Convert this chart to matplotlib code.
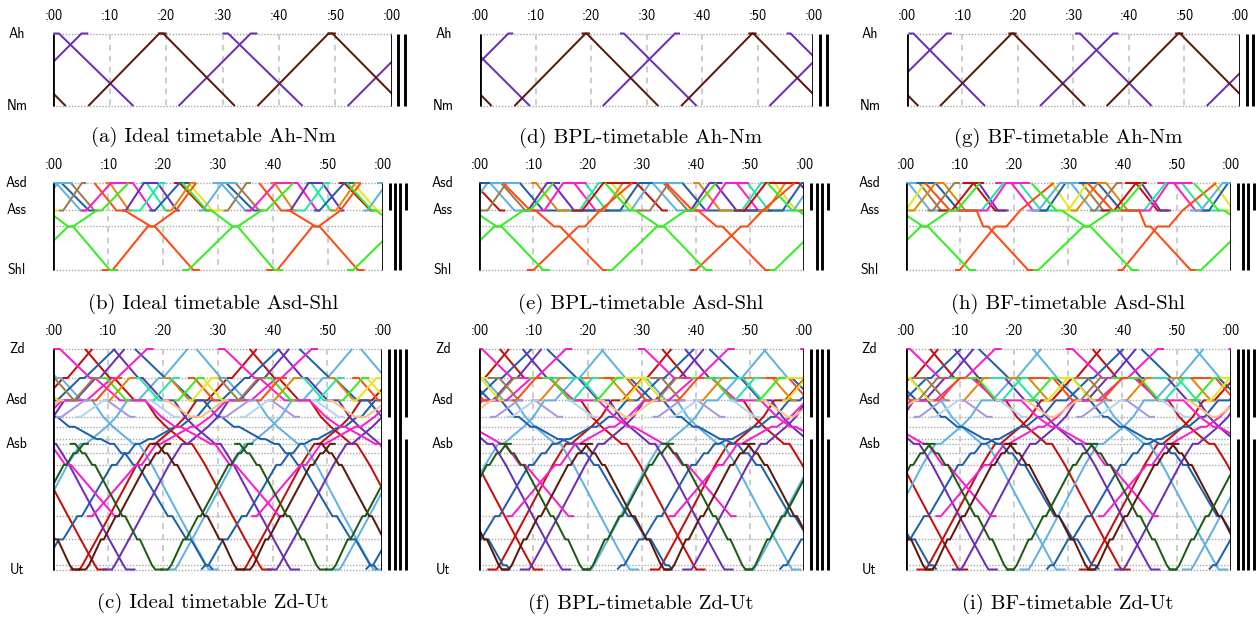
import numpy as np
import matplotlib
matplotlib.use("Agg")
import matplotlib.pyplot as plt
from matplotlib.transforms import offset_copy

FIG_W, FIG_H = 1258, 617
PERIOD = 30.0
TICKS = [0, 10, 20, 30, 40, 50, 60]
TICK_LABELS = [":00", ":10", ":20", ":30", ":40", ":50", ":00"]

COL = {
    "purple": "#6a30b4", "brown": "#5a1a0c", "orred": "#ff4a12", "green": "#33ee22",
    "dblue": "#2160a8", "lblue": "#60b2e0", "tan": "#9c7c52", "orange": "#e0880e",
    "magenta": "#f81ec8", "red": "#c4100c", "teal": "#22e6a6", "yellow": "#e6e61e",
    "dgreen": "#1e5c16", "lavender": "#a896e0", "paleblue": "#b4d2f2", "peach": "#f8c282",
}

# ---------------- corridor Ah - Nm ----------------
AN_NAMES = ["Ah", "Nm"]
AN_POS = [0.0, 72.5]
AN_LABELS = ["Ah", "Nm"]
AN_BARS = [[("Ah", "Nm")], [("Ah", "Nm")]]

# trips: (colour, times, stations); every trip repeats each PERIOD minutes
A_TRIPS = [
    ("purple", [0.0, 1.0, 14.2], ["Ah", "Ah", "Nm"]),
    ("purple", [22.2, 35.0, 36.2], ["Nm", "Ah", "Ah"]),
    ("brown", [6.2, 18.8, 20.1], ["Nm", "Ah", "Ah"]),
    ("brown", [18.6, 19.5, 32.2], ["Ah", "Ah", "Nm"]),
]
D_TRIPS = [
    ("purple", [25.2, 25.9, 39.0], ["Ah", "Ah", "Nm"]),
    ("purple", [22.1, 35.1, 36.0], ["Nm", "Ah", "Ah"]),
    ("brown", [6.2, 19.0, 19.8], ["Nm", "Ah", "Ah"]),
    ("brown", [18.3, 19.2, 32.1], ["Ah", "Ah", "Nm"]),
]
G_TRIPS = [
    ("purple", [0.3, 1.2, 14.1], ["Ah", "Ah", "Nm"]),
    ("purple", [24.0, 37.2, 38.1], ["Nm", "Ah", "Ah"]),
    ("brown", [6.0, 18.9, 19.8], ["Nm", "Ah", "Ah"]),
    ("brown", [18.3, 19.2, 32.1], ["Ah", "Ah", "Nm"]),
]

# ---------------- corridor Asd - Shl ----------------
AS_NAMES = ["Asd", "Ass", "Asdl", "Shl"]
AS_POS = [0.0, 27.5, 43.5, 87.0]
AS_LABELS = ["Asd", "Ass", "Shl"]
AS_BARS = [[("Asd", "Ass")], [("Asd", "Shl")], [("Asd", "Shl")], [("Asd", "Ass")]]

# short runs Asd -> Ass: colour, [at Asd, leave Asd, at Ass, leave Ass]
B_DOWN = [
    ("dblue", [0.0, 1.5, 6.5, 7.8]), ("lblue", [-1.0, 0.5, 5.0, 6.0]),
    ("tan", [2.5, 3.2, 7.5, 8.3]), ("orange", [9.5, 10.3, 13.8, 14.3]),
    ("magenta", [11.0, 14.5, 18.0, 18.6]), ("teal", [16.0, 17.0, 20.5, 21.2]),
    ("purple", [16.5, 19.0, 22.5, 23.0]), ("red", [22.0, 23.0, 27.8, 28.6]),
    ("yellow", [24.0, 24.6, 29.0, 31.0]),
]
# short runs Ass -> Asd: colour, [at Ass, leave Ass, at Asd, leave Asd]
B_UP = [
    ("lblue", [-3.5, -2.8, 0.8, 3.5]), ("tan", [1.0, 1.8, 5.2, 6.0]),
    ("magenta", [5.0, 6.0, 10.5, 12.0]), ("purple", [12.5, 13.2, 16.5, 19.0]),
    ("teal", [14.0, 15.8, 19.5, 20.5]), ("dblue", [17.5, 18.5, 23.0, 26.0]),
    ("orange", [20.5, 21.5, 25.0, 26.0]),
]
B_LONG = [
    ("orred", [7.5, 11.5, 13.0, 17.8, 18.5, 25.5, 26.7], ["Asd", "Ass", "Ass", "Asdl", "Asdl", "Shl", "Shl"]),
    ("orred", [8.8, 10.8, 17.2, 18.3, 22.3, 26.0], ["Shl", "Shl", "Asdl", "Asdl", "Ass", "Asd"]),
    ("green", [-6.5, -2.0, -1.2, 2.7, 3.6, 10.3, 11.8], ["Asd", "Ass", "Ass", "Asdl", "Asdl", "Shl", "Shl"]),
    ("green", [-6.5, -5.4, 2.7, 3.6, 7.9, 8.8, 13.7], ["Shl", "Shl", "Asdl", "Asdl", "Ass", "Ass", "Asd"]),
]

E_DOWN = [
    ("red", [-3.0, -1.0, 3.8, 4.8]), ("lblue", [0.5, 2.0, 6.5, 8.5]),
    ("tan", [3.0, 4.0, 8.5, 10.5]), ("dblue", [1.5, 7.5, 11.8, 20.0]),
    ("orange", [9.5, 10.5, 14.5, 17.5]), ("magenta", [15.5, 17.5, 21.5, 23.5]),
    ("teal", [18.0, 19.5, 23.5, 26.5]), ("purple", [12.4, 13.5, 17.5, 24.0]),
    ("yellow", [23.5, 24.5, 28.5, 30.5]),
]
E_UP = [
    ("tan", [-1.0, 1.5, 5.0, 7.0]), ("lblue", [-4.0, -2.0, 1.5, 7.5]),
    ("purple", [8.0, 9.0, 12.5, 14.9]), ("magenta", [10.0, 12.0, 15.5, 19.8]),
    ("teal", [16.5, 18.5, 22.0, 23.0]), ("dblue", [20.0, 26.0, 29.5, 32.0]),
    ("orange", [21.5, 23.0, 26.5, 27.0]), ("red", [17.0, 19.0, 22.9, 29.0]),
]
E_LONG = [
    ("orred", [4.4, 9.4, 10.4, 13.8, 14.9, 22.8, 24.3], ["Asd", "Ass", "Ass", "Asdl", "Asdl", "Shl", "Shl"]),
    ("orred", [8.8, 10.0, 18.3, 19.5, 22.3, 28.2], ["Shl", "Shl", "Asdl", "Asdl", "Ass", "Asd"]),
    ("green", [-6.8, -2.2, -1.2, 3.2, 4.1, 11.8, 13.0], ["Asd", "Ass", "Ass", "Asdl", "Asdl", "Shl", "Shl"]),
    ("green", [-6.5, -5.5, 2.8, 3.8, 8.1, 9.4, 13.7], ["Shl", "Shl", "Asdl", "Asdl", "Ass", "Ass", "Asd"]),
]

H_DOWN = [
    ("lblue", [-1.0, 0.5, 4.5, 6.5]), ("tan", [1.0, 2.5, 6.5, 8.0]),
    ("orange", [6.5, 7.0, 11.0, 13.0]), ("red", [10.5, 12.5, 16.5, 18.5]),
    ("purple", [13.0, 13.5, 17.0, 19.0]), ("magenta", [16.5, 19.5, 23.5, 26.0]),
    ("teal", [20.0, 21.0, 25.0, 28.0]), ("dblue", [1.0, 5.5, 9.8, 12.5]),
    ("yellow", [26.5, 27.0, 30.5, 32.0]),
]
H_UP = [
    ("yellow", [-1.0, 0.0, 3.5, 4.0]), ("orange", [0.5, 1.5, 5.5, 7.0]),
    ("dblue", [24.5, 26.0, 29.5, 34.0]), ("lblue", [22.5, 24.5, 28.5, 32.0]),
    ("teal", [11.5, 14.0, 18.0, 20.5]), ("magenta", [12.5, 15.0, 18.5, 23.0]),
    ("red", [6.0, 8.5, 12.5, 14.5]), ("tan", [4.0, 5.0, 9.0, 10.0]),
]
H_LONG = [
    ("orred", [3.6, 8.2, 13.1, 14.3, 15.2, 22.6, 24.2], ["Asd", "Ass", "Ass", "Asdl", "Asdl", "Shl", "Shl"]),
    ("orred", [9.1, 10.0, 16.5, 18.6, 21.1, 27.3], ["Shl", "Shl", "Asdl", "Asdl", "Ass", "Asd"]),
    ("green", [-6.8, -2.2, -1.2, 3.2, 4.1, 11.8, 13.0], ["Asd", "Ass", "Ass", "Asdl", "Asdl", "Shl", "Shl"]),
    ("green", [-6.5, -5.5, 2.8, 3.8, 8.1, 9.4, 13.7], ["Shl", "Shl", "Asdl", "Asdl", "Ass", "Ass", "Asd"]),
]

# ---------------- corridor Zd - Ut ----------------
ZU_NAMES = ["Zd", "Ass", "Asd", "Asdm", "Asa", "Dvd", "Asb", "Hld", "Ac", "Bkl", "Mas", "Utzl", "Ut"]
ZU_POS = [0.0, 29.2, 51.7, 68.3, 78.3, 90.7, 95.5, 105.0, 116.7, 168.3, 191.7, 217.7, 222.0]
ZU_LABELS = ["Zd", "Asd", "Asb", "Ut"]
ZU_BARS = [[("Zd", "Asdm"), ("Dvd", "Ut")], [("Zd", "Ut")], [("Zd", "Ut")], [("Zd", "Asdm"), ("Dvd", "Ut")]]

# running profiles in the Zd -> Ut direction (minutes after departure)
IC_ST = ["Zd", "Ass", "Ass", "Asd", "Asd", "Asdm", "Asa", "Dvd", "Asb", "Asb", "Hld", "Ac", "Bkl", "Mas", "Utzl", "Ut", "Ut"]
IC_T = [0.0, 4.5, 5.3, 9.0, 11.0, 13.0, 14.8, 17.5, 18.5, 19.5, 20.6, 21.9, 26.9, 29.2, 31.8, 32.3, 34.0]
SP_ST = ["Zd", "Ass", "Ass", "Asd", "Asd", "Asdm", "Asdm", "Asa", "Asa", "Dvd", "Dvd", "Asb", "Asb",
         "Hld", "Hld", "Ac", "Ac", "Bkl", "Bkl", "Mas", "Mas", "Utzl", "Utzl", "Ut"]
SP_T = [0.0, 5.5, 6.3, 10.5, 12.5, 15.0, 15.8, 18.0, 19.0, 23.0, 23.8, 25.4, 26.2,
        27.5, 28.2, 29.7, 30.5, 36.0, 36.8, 39.4, 40.2, 42.9, 43.5, 44.2]
MG_ST = ["Zd", "Zd", "Ass", "Ass", "Asd", "Asd", "Asdm", "Asa", "Asa", "Dvd", "Asb", "Asb", "Hld", "Ac", "Ac", "Bkl", "Bkl"]
MG_T = [-1.2, 0.0, 5.5, 6.4, 11.0, 15.5, 18.5, 21.0, 22.0, 26.0, 27.5, 28.3, 29.5, 31.0, 32.0, 40.0, 41.0]
SH_ST = ["Asb", "Asb", "Hld", "Hld", "Ac", "Ac", "Bkl", "Bkl", "Mas", "Mas", "Utzl", "Ut", "Ut"]
SH_T = [-1.0, 0.0, 1.3, 1.8, 3.1, 3.6, 8.6, 9.1, 11.3, 11.8, 14.0, 14.6, 16.0]
# short runs between Ass and Asd, and between Asd and Asdm
SA_ST = ["Ass", "Ass", "Asd", "Asd"]
SA_T = [0.0, 1.2, 4.8, 5.6]
SM_ST = ["Asd", "Asd", "Asdm", "Asdm"]
SM_T = [0.0, 0.8, 5.0, 6.0]

PROFILES = {"IC": (IC_T, IC_ST), "SP": (SP_T, SP_ST), "MG": (MG_T, MG_ST),
            "SH": (SH_T, SH_ST), "SA": (SA_T, SA_ST), "SM": (SM_T, SM_ST)}

# services: colour, profile, direction (+1 towards Ut, -1 towards Zd), departure, extra wait at Ass
C_SERVICES = [
    ("red", "IC", 1, 5.8, 0), ("red", "IC", -1, 3.1, 0),
    ("lblue", "IC", 1, 26.1, 0), ("lblue", "IC", -1, 20.5, 0),
    ("dblue", "SP", 1, 14.9, 0), ("dblue", "SP", -1, 27.0, 0),
    ("purple", "IC", 1, 11.0, 0), ("purple", "IC", -1, 9.0, 0),
    ("magenta", "MG", 1, 1.2, 0), ("magenta", "MG", -1, 6.1, 0),
    ("brown", "SH", 1, 19.0, 0), ("brown", "SH", -1, 4.5, 0),
    ("dgreen", "SH", 1, 4.0, 0), ("dgreen", "SH", -1, 19.5, 0),
    ("tan", "SA", 1, -1.0, 0), ("green", "SA", 1, 8.5, 0), ("teal", "SA", 1, 14.5, 0),
    ("orange", "SA", 1, 20.0, 0), ("orred", "SA", 1, 24.5, 0), ("yellow", "SA", 1, 26.0, 0),
    ("orred", "SA", -1, 7.0, 0), ("orange", "SA", -1, 9.5, 0), ("tan", "SA", -1, 3.0, 0),
    ("teal", "SA", -1, 17.5, 0), ("green", "SA", -1, 22.0, 0), ("yellow", "SA", -1, 24.5, 0),
    ("lavender", "SM", -1, 0.5, 0), ("lavender", "SM", 1, 9.0, 0),
    ("paleblue", "SM", -1, 4.0, 0), ("paleblue", "SM", 1, 17.0, 0),
    ("peach", "SM", 1, 20.0, 0), ("peach", "SM", -1, 26.0, 0),
]
F_SERVICES = [
    ("red", "IC", 1, 3.8, 4), ("red", "IC", -1, 1.5, 0),
    ("lblue", "IC", 1, 22.5, 3), ("lblue", "IC", -1, 19.0, 0),
    ("dblue", "SP", 1, 12.5, 9), ("dblue", "SP", -1, 25.5, 0),
    ("purple", "IC", 1, 8.0, 5), ("purple", "IC", -1, 7.5, 0),
    ("magenta", "MG", 1, 0.5, 6), ("magenta", "MG", -1, 5.0, 0),
    ("brown", "SH", 1, 19.6, 0), ("brown", "SH", -1, 4.0, 0),
    ("dgreen", "SH", 1, 4.6, 0), ("dgreen", "SH", -1, 19.0, 0),
    ("tan", "SA", 1, -0.5, 3), ("green", "SA", 1, 9.0, 3), ("teal", "SA", 1, 13.5, 4),
    ("orange", "SA", 1, 19.0, 4), ("orred", "SA", 1, 23.0, 3), ("yellow", "SA", 1, 25.0, 4),
    ("orred", "SA", -1, 6.0, 0), ("orange", "SA", -1, 10.5, 0), ("tan", "SA", -1, 2.0, 0),
    ("teal", "SA", -1, 16.5, 0), ("green", "SA", -1, 21.0, 0), ("yellow", "SA", -1, 26.0, 0),
    ("lavender", "SM", -1, 2.0, 0), ("lavender", "SM", 1, 9.5, 0),
    ("paleblue", "SM", -1, 5.0, 0), ("paleblue", "SM", 1, 16.0, 0),
    ("peach", "SM", 1, 22.0, 0), ("peach", "SM", -1, 27.0, 0),
]
I_SERVICES = [
    ("red", "IC", 1, 4.5, 3), ("red", "IC", -1, 2.0, 0),
    ("lblue", "IC", 1, 23.5, 2), ("lblue", "IC", -1, 21.0, 0),
    ("dblue", "SP", 1, 13.5, 8), ("dblue", "SP", -1, 26.0, 0),
    ("purple", "IC", 1, 9.0, 4), ("purple", "IC", -1, 8.5, 0),
    ("magenta", "MG", 1, 0.8, 5), ("magenta", "MG", -1, 5.5, 0),
    ("brown", "SH", 1, 19.2, 0), ("brown", "SH", -1, 3.5, 0),
    ("dgreen", "SH", 1, 4.2, 0), ("dgreen", "SH", -1, 18.5, 0),
    ("tan", "SA", 1, 0.5, 2), ("green", "SA", 1, 8.0, 4), ("teal", "SA", 1, 14.0, 5),
    ("orange", "SA", 1, 18.5, 3), ("orred", "SA", 1, 22.0, 4), ("yellow", "SA", 1, 26.5, 3),
    ("orred", "SA", -1, 5.5, 0), ("orange", "SA", -1, 10.0, 0), ("tan", "SA", -1, 1.5, 0),
    ("teal", "SA", -1, 17.0, 0), ("green", "SA", -1, 22.5, 0), ("yellow", "SA", -1, 25.5, 0),
    ("lavender", "SM", -1, 1.5, 0), ("lavender", "SM", 1, 10.0, 0),
    ("paleblue", "SM", -1, 4.5, 0), ("paleblue", "SM", 1, 16.5, 0),
    ("peach", "SM", 1, 21.5, 0), ("peach", "SM", -1, 26.5, 0),
]

CAPTIONS = [
    ["(a) Ideal timetable Ah-Nm", "(d) BPL-timetable Ah-Nm", "(g) BF-timetable Ah-Nm"],
    ["(b) Ideal timetable Asd-Shl", "(e) BPL-timetable Asd-Shl", "(h) BF-timetable Asd-Shl"],
    ["(c) Ideal timetable Zd-Ut", "(f) BPL-timetable Zd-Ut", "(i) BF-timetable Zd-Ut"],
]

# panel frames in figure pixels: left, right (":00" ends), top station row, bottom station row
FRAMES = [
    [(53.3, 391.7, 33.5, 106.0), (480.0, 813.3, 33.5, 106.0), (906.7, 1240.0, 33.5, 106.0)],
    [(53.3, 382.7, 183.0, 270.0), (479.3, 804.3, 183.0, 270.0), (905.7, 1230.7, 183.0, 270.0)],
    [(53.3, 382.3, 349.0, 569.5), (479.3, 804.0, 349.0, 569.5), (905.7, 1230.7, 349.0, 569.5)],
]
CAPTION_XY = [
    [(213, 137), (641, 138), (1068, 138)],
    [(213, 304), (641, 304), (1068, 304)],
    [(213, 603), (641, 604), (1068, 604)],
]
BAR_OFFSETS = {2: [6.7, 13.3], 4: [7.0, 12.5, 17.7, 23.5]}


def expand_short(rows, first, second):
    out = []
    for colour, t in rows:
        out.append((colour, t, [first, first, second, second]))
    return out


def service_trips(services):
    trips = []
    for colour, prof, direction, dep, hold in services:
        t, st = PROFILES[prof]
        t = np.asarray(t, float)
        st = list(st)
        if direction < 0:
            t = (t[-1] - t)[::-1]
            st = st[::-1]
        t = t - t[np.argmax(t >= 0)] if direction < 0 else t
        t = t + dep
        if hold and "Ass" in st:
            idx = [i for i, s in enumerate(st) if s == "Ass"]
            last = idx[-1]
            if len(idx) == 1:
                t = np.insert(t, last, t[last])
                st.insert(last, "Ass")
                last += 1
            t[last:] = t[last:] + hold
        trips.append((colour, list(t), st))
    return trips


fig = plt.figure(figsize=(FIG_W / 100, FIG_H / 100), dpi=100)
SANS = ["cmss10", "DejaVu Sans"]
SERIF = ["cmr10", "DejaVu Serif"]


def draw_panel(frame, names, pos, labels, bars, trips, caption, cap_xy):
    left, right, top, bottom = frame
    pad = 4.0
    ax = fig.add_axes([left / FIG_W, 1 - (bottom + pad) / FIG_H,
                       (right - left) / FIG_W, (bottom - top + 2 * pad) / FIG_H])
    p = dict(zip(names, pos))
    scale = (pos[-1] - pos[0]) / (bottom - top)
    ax.set_xlim(0, 60)
    ax.set_ylim(pos[-1] + pad * scale, pos[0] - pad * scale)
    ax.axis("off")
    # station rows and ten-minute marks
    for y in pos:
        ax.plot([0, 60], [y, y], color="#a8a8a8", lw=1.0, ls=(0, (1.0, 1.2)), zorder=1)
    for x in TICKS[1:-1]:
        ax.plot([x, x], [pos[0], pos[-1]], color="#cccccc", lw=1.4, ls=(0, (3.0, 2.6)), zorder=1)
    for colour, times, stations in trips:
        ys = [p[s] for s in stations]
        tt = np.asarray(times, float)
        for k in range(-3, 4):
            ax.plot(tt + k * PERIOD, ys, color=COL[colour], lw=1.45, zorder=3,
                    solid_capstyle="butt", solid_joinstyle="miter")
    for x in (0, 60):
        ax.plot([x, x], [pos[0], pos[-1]], color="black", lw=2.0, zorder=5,
                solid_capstyle="butt")
    # track bars beyond the right edge
    per_px = 60.0 / (right - left)
    for off, segs in zip(BAR_OFFSETS[len(bars)], bars):
        for a, b in segs:
            ax.plot([60 + off * per_px] * 2, [p[a], p[b]], color="black", lw=2.1,
                    clip_on=False, zorder=5, solid_capstyle="butt")
    lab_tr = offset_copy(ax.transData, fig=fig, x=0, y=18, units="dots")
    for x, s in zip(TICKS, TICK_LABELS):
        ax.text(x, pos[0], s, transform=lab_tr, ha="center", va="center",
                fontsize=10.2, family=SANS)
    st_tr = offset_copy(ax.transData, fig=fig, x=-36.5, y=0, units="dots")
    for s in labels:
        ax.text(0, p[s], s, transform=st_tr, ha="center", va="center",
                fontsize=10.0, family=SANS)
    fig.text(cap_xy[0] / FIG_W, 1 - cap_xy[1] / FIG_H, caption, ha="center",
             va="center", fontsize=15.0, family=SERIF)


row_a = [A_TRIPS, D_TRIPS, G_TRIPS]
row_b = [expand_short(B_DOWN, "Asd", "Ass") + expand_short(B_UP, "Ass", "Asd") + B_LONG,
         expand_short(E_DOWN, "Asd", "Ass") + expand_short(E_UP, "Ass", "Asd") + E_LONG,
         expand_short(H_DOWN, "Asd", "Ass") + expand_short(H_UP, "Ass", "Asd") + H_LONG]
row_c = [service_trips(C_SERVICES), service_trips(F_SERVICES), service_trips(I_SERVICES)]

for j in range(3):
    draw_panel(FRAMES[0][j], AN_NAMES, AN_POS, AN_LABELS, AN_BARS, row_a[j], CAPTIONS[0][j], CAPTION_XY[0][j])
    draw_panel(FRAMES[1][j], AS_NAMES, AS_POS, AS_LABELS, AS_BARS, row_b[j], CAPTIONS[1][j], CAPTION_XY[1][j])
    draw_panel(FRAMES[2][j], ZU_NAMES, ZU_POS, ZU_LABELS, ZU_BARS, row_c[j], CAPTIONS[2][j], CAPTION_XY[2][j])

fig.savefig("out.png", dpi=100)
